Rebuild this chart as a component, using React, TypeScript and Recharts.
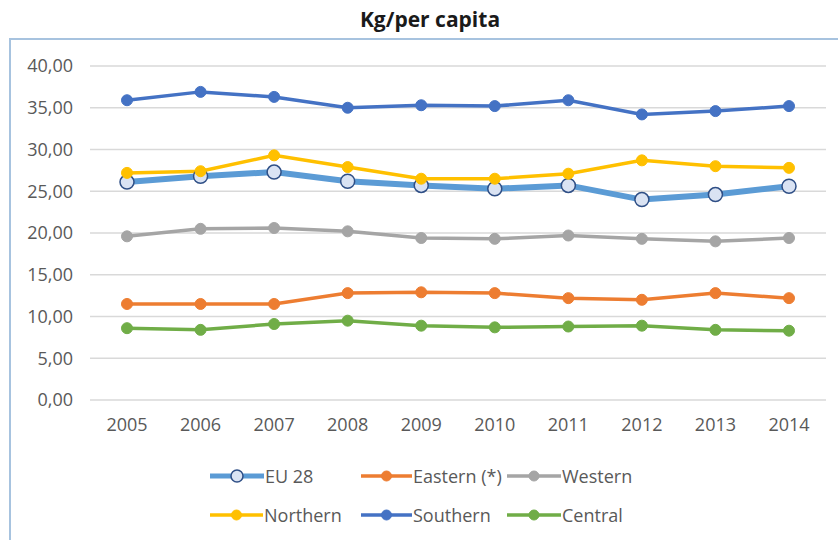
import React from 'react';
import { LineChart, Line, XAxis, YAxis, CartesianGrid } from 'recharts';

const years = ['2005', '2006', '2007', '2008', '2009', '2010', '2011', '2012', '2013', '2014'];
const eu28 = [26.1, 26.8, 27.3, 26.2, 25.7, 25.3, 25.7, 24.0, 24.6, 25.6];
const eastern = [11.5, 11.5, 11.5, 12.8, 12.9, 12.8, 12.2, 12.0, 12.8, 12.2];
const western = [19.6, 20.5, 20.6, 20.2, 19.4, 19.3, 19.7, 19.3, 19.0, 19.4];
const northern = [27.2, 27.4, 29.3, 27.9, 26.5, 26.5, 27.1, 28.7, 28.0, 27.8];
const southern = [35.9, 36.9, 36.3, 35.0, 35.3, 35.2, 35.9, 34.2, 34.6, 35.2];
const central = [8.6, 8.4, 9.1, 9.5, 8.9, 8.7, 8.8, 8.9, 8.4, 8.3];
const yTicks = [0, 5, 10, 15, 20, 25, 30, 35, 40];

const data = years.map((y, i) => ({
  year: y,
  eu28: eu28[i],
  eastern: eastern[i],
  western: western[i],
  northern: northern[i],
  southern: southern[i],
  central: central[i],
}));

const FONT = '"Open Sans", "DejaVu Sans", sans-serif';
const TXT = '#595959';

const series = [
  { key: 'eu28', name: 'EU 28', color: '#5B9BD5', width: 6, dotFill: '#DAE3F3', dotStroke: '#2F4F86', r: 7 },
  { key: 'eastern', name: 'Eastern (*)', color: '#ED7D31', width: 3.5, dotFill: '#ED7D31', dotStroke: '#ED7D31', r: 5.5 },
  { key: 'western', name: 'Western', color: '#A5A5A5', width: 3.5, dotFill: '#A5A5A5', dotStroke: '#A5A5A5', r: 5.5 },
  { key: 'northern', name: 'Northern', color: '#FFC000', width: 3.5, dotFill: '#FFC000', dotStroke: '#FFC000', r: 5.5 },
  { key: 'southern', name: 'Southern', color: '#4472C4', width: 3.5, dotFill: '#4472C4', dotStroke: '#4472C4', r: 5.5 },
  { key: 'central', name: 'Central', color: '#70AD47', width: 3.5, dotFill: '#70AD47', dotStroke: '#70AD47', r: 5.5 },
];

const legendPos = [
  { left: 210, top: 476, icon: 54 },
  { left: 361, top: 476, icon: 51 },
  { left: 507, top: 476, icon: 54 },
  { left: 210, top: 515, icon: 53 },
  { left: 361, top: 515, icon: 51 },
  { left: 507, top: 515, icon: 54 },
];

const fmt = (v: number) => v.toFixed(2).replace('.', ',');

export default function App() {
  return (
    <div style={{ position: 'absolute', left: 0, top: 0, width: 838, height: 540, background: '#fff', overflow: 'hidden', fontFamily: FONT }}>
      <div
        style={{
          position: 'absolute',
          left: 9,
          top: 38,
          width: 860,
          height: 560,
          borderLeft: '2px solid #A7C3DF',
          borderTop: '2px solid #A7C3DF',
          boxSizing: 'border-box',
        }}
      />
      <div
        style={{
          position: 'absolute',
          left: 0,
          top: 4,
          width: 860,
          textAlign: 'center',
          fontWeight: 700,
          fontSize: 21,
          color: '#1a1a1a',
          lineHeight: '30px',
        }}
      >
        Kg/per capita
      </div>
      <div style={{ position: 'absolute', left: 0, top: 0 }}>
        <LineChart width={838} height={540} data={data} margin={{ top: 66, right: 12, left: 0, bottom: 110 }}>
          <CartesianGrid vertical={false} stroke="#D9D9D9" strokeWidth={1.3} />
          <XAxis
            dataKey="year"
            axisLine={false}
            tickLine={false}
            tickSize={0}
            tickMargin={18}
            height={30}
            padding={{ left: 37, right: 37 }}
            interval={0}
            tick={{ fill: TXT, fontSize: 18, fontFamily: FONT }}
          />
          <YAxis
            domain={[0, 40]}
            ticks={yTicks}
            width={90}
            axisLine={false}
            tickLine={false}
            tickSize={0}
            tickMargin={17}
            tickFormatter={fmt}
            tick={{ fill: TXT, fontSize: 18, fontFamily: FONT }}
          />
          {series.map((s) => (
            <Line
              key={s.key}
              type="linear"
              dataKey={s.key}
              name={s.name}
              stroke={s.color}
              strokeWidth={s.width}
              dot={{ r: s.r, fill: s.dotFill, stroke: s.dotStroke, strokeWidth: s.key === 'eu28' ? 1.5 : 1 }}
              activeDot={false}
              isAnimationActive={false}
            />
          ))}
        </LineChart>
      </div>
      {series.map((s, i) => {
        const w = legendPos[i].icon;
        const big = s.key === 'eu28';
        return (
          <div
            key={s.key}
            style={{
              position: 'absolute',
              left: legendPos[i].left,
              top: legendPos[i].top - 12,
              height: 24,
              display: 'flex',
              alignItems: 'center',
              whiteSpace: 'nowrap',
            }}
          >
            <svg width={w} height={24} style={{ display: 'block' }}>
              <line x1={0} y1={12} x2={w} y2={12} stroke={s.color} strokeWidth={big ? 5 : 3.5} />
              <circle cx={w / 2} cy={12} r={big ? 6 : 5} fill={s.dotFill} stroke={s.dotStroke} strokeWidth={big ? 1.5 : 1} />
            </svg>
            <span style={{ fontSize: 18, color: TXT, marginLeft: 1 }}>{s.name}</span>
          </div>
        );
      })}
    </div>
  );
}
